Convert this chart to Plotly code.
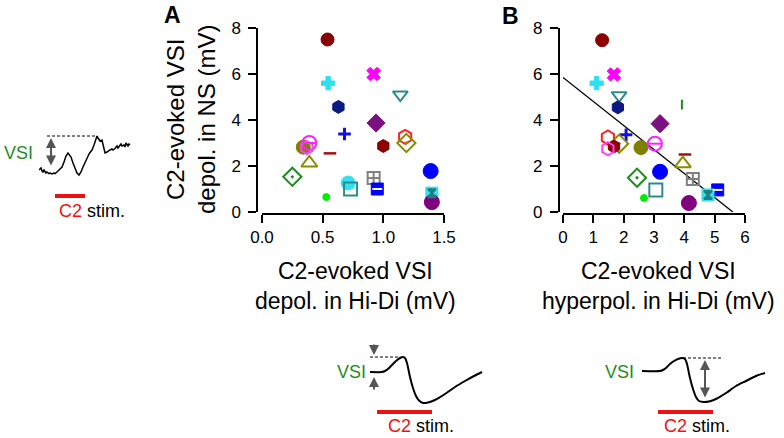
import plotly.graph_objects as go

W, H = 784, 438
FONT = "Liberation Sans, Arial, sans-serif"

# ---------------- scatter data (panel A: depol. in Hi-Di, panel B: hyperpol. in Hi-Di) -------------
cells = ["c1", "c2", "c3", "c4", "c5", "c6", "c7", "c8", "c9", "c10", "c11", "c12", "c13",
         "c14", "c15", "c16", "c17", "c18", "c19", "c20", "c21", "c22", "c23", "c24", "c25"]
colors = ["#8B0000", "#FF00FF", "#2DE0F0", "#2E8B8B", "#0A1A80", "#7B1080", "#1010E0", "#FF2020",
          "#8B8B00", "#8B0000", "#7F7F00", "#FF20FF", "#FF40FF", "#A01010", "#8B8B00", "#1E8C1E",
          "#0000FF", "#33E0F0", "#2E8B8B", "#808080", "#0000FF", "#00EE00", "#33E0F0", "#800080",
          "#1E8C1E"]
symbols = ["circle", "x", "cross", "triangle-down-open", "hexagon", "diamond", "cross-thin-open",
           "hexagon-open", "diamond-open-dot", "hexagon", "circle", "circle-open", "hexagon-open",
           "line-ew-open", "triangle-up-open", "diamond-open-dot", "circle", "circle", "square-open",
           "square-cross-open", "square", "circle", "square", "circle", "line-ns-open"]
sizes = [13, 12, 11, 13, 13, 14, 9, 14, 14, 13, 14, 14, 13, 9, 14, 14, 15, 14, 13, 12, 12, 7, 12, 15, 7]
line_w = [1, 1, 1, 2, 1, 1, 3, 2, 2, 1, 1, 2, 2, 2.5, 2, 2, 1, 1, 2, 2, 1, 1, 1, 1, 2]

depol_hidi = [0.54, 0.92, 0.545, 1.14, 0.63, 0.94, 0.68, 1.18, 1.19, 1.0, 0.34, 0.39, 0.37, 0.56,
              0.39, 0.25, 1.39, 0.71, 0.73, 0.92, 0.95, 0.53, 1.40, 1.40, None]
depol_ns_A = [7.5, 6.0, 5.6, 5.1, 4.57, 3.87, 3.39, 3.27, 3.0, 2.87, 2.82, 3.0, 2.8, 2.55,
              2.13, 1.53, 1.78, 1.26, 1.0, 1.48, 1.0, 0.65, 0.82, 0.43, None]
hyperpol_hidi = [1.29, 1.68, 1.11, 1.85, 1.81, 3.2, 2.08, 1.48, 1.85, 1.68, 2.57, 3.03, 1.48, 4.02,
                 3.95, 2.44, 3.2, None, 3.06, 4.28, 5.1, 2.67, 4.78, 4.15, 3.92]
depol_ns_B = [7.47, 5.98, 5.6, 5.07, 4.55, 3.84, 3.36, 3.24, 2.97, 2.85, 2.8, 2.97, 2.75, 2.5,
              2.1, 1.49, 1.75, None, 0.96, 1.44, 0.96, 0.61, 0.74, 0.39, 4.67]

# regression line in panel B
fit_x = [0.0, 5.6]
fit_y = [5.85, 0.0]

# marker details drawn on top of some symbols
detail_idx = [11, 20, 22]
detail_symbols = ["line-ew-open", "line-ew-open", "hourglass"]
detail_colors = ["#FF20FF", "#FFFFFF", "#1E7F7F"]
detail_sizes = [9, 7, 8]

x_ticks_A = [0.0, 0.5, 1.0, 1.5]
x_ticks_B = [0, 1, 2, 3, 4, 5, 6]
y_ticks = [0, 2, 4, 6, 8]

# ---------------- inset traces (local time / voltage units) ----------------
rec_t = [0, 1, 2, 3, 4, 5, 6, 7, 8, 10, 11, 13, 15, 16, 18, 20, 21, 23, 25, 27, 29, 30, 32, 34,
         36, 38, 40, 42, 44, 46, 48, 50, 51, 53, 55, 57, 58, 59, 60, 61, 63, 64, 66, 68, 69, 71,
         73, 74, 76, 78, 79, 80, 82, 83, 85, 86, 87, 89, 90, 91]
rec_v = [30, 31, 32, 29, 28, 30, 29, 27, 28, 26.5, 27, 26, 27, 26.5, 28, 30, 31, 33, 38, 44, 47,
         46, 43, 37, 32, 27, 25, 28, 33, 38, 43, 46, 47.5, 50, 55, 61, 64, 62, 60, 59, 60, 55, 47,
         48, 49, 50, 51, 50, 51.5, 54, 52, 53, 56, 54, 55, 53, 57, 54, 56, 55]
rec_peak_t = [8, 58]
rec_peak_v = [64, 64]
rec_stim_t = [16, 46]
rec_arrow = (12, 62, 33)  # t, v_top, v_bottom

schA_t = [10, 22, 25, 28, 32, 36, 40, 43, 45, 47, 50, 53, 56, 59, 63, 68, 75, 85, 95, 105, 114, 122]
schA_v = [48, 48, 49, 51, 55, 59, 62, 63, 62, 57, 43, 32, 24, 19.5, 17, 17.5, 20, 26, 33, 39, 44, 48]
schA_peak_t = [10, 40]
schA_peak_v = [63, 63]
schA_stim_t = [17, 72]

schB_t = [2, 20, 23, 26, 30, 34, 38, 42, 45, 47, 50, 53, 56, 59, 64, 69, 76, 86, 96, 106, 116, 125]
schB_v = [49, 49, 50, 52, 56, 59, 61, 62, 61, 56, 42, 31, 23, 19, 18, 18.5, 21, 27, 34, 39, 44, 47]
schB_peak_t = [43, 82]
schB_peak_v = [62, 62]
schB_stim_t = [18, 73]


def px(x):
    return x / W


def py(y):
    return 1 - y / H


fig = go.Figure()


def panel_points(xs, ys, xa, ya):
    fig.add_trace(go.Scatter(
        x=xs, y=ys, mode="markers", xaxis=xa, yaxis=ya, showlegend=False, hoverinfo="skip",
        marker=dict(symbol=symbols, size=sizes, color=colors, opacity=1,
                    line=dict(color=colors, width=line_w))))
    fig.add_trace(go.Scatter(
        x=[xs[i] for i in detail_idx], y=[ys[i] for i in detail_idx], mode="markers",
        xaxis=xa, yaxis=ya, showlegend=False, hoverinfo="skip",
        marker=dict(symbol=detail_symbols, size=detail_sizes, color=detail_colors, opacity=1,
                    line=dict(color=detail_colors, width=2))))


panel_points(depol_hidi, depol_ns_A, "x", "y")
fig.add_trace(go.Scatter(x=fit_x, y=fit_y, mode="lines", xaxis="x2", yaxis="y2",
                         line=dict(color="black", width=1.3), showlegend=False, hoverinfo="skip"))
panel_points(hyperpol_hidi, depol_ns_B, "x2", "y2")

# insets
RED = "#EE1111"


def inset(t, v, pk_t, pk_v, st_t, st_v, xa, ya):
    fig.add_trace(go.Scatter(x=t, y=v, mode="lines", xaxis=xa, yaxis=ya, showlegend=False,
                             hoverinfo="skip", line=dict(color="black", width=2, shape="spline",
                                                         smoothing=0.6)))
    fig.add_trace(go.Scatter(x=pk_t, y=pk_v, mode="lines", xaxis=xa, yaxis=ya, showlegend=False,
                             hoverinfo="skip", line=dict(color="black", width=1, dash="3px,2px")))
    fig.add_trace(go.Scatter(x=st_t, y=[st_v, st_v], mode="lines", xaxis=xa, yaxis=ya,
                             showlegend=False, hoverinfo="skip", line=dict(color=RED, width=4)))


fig.add_trace(go.Scatter(x=rec_t, y=rec_v, mode="lines", xaxis="x3", yaxis="y3", showlegend=False,
                         hoverinfo="skip", line=dict(color="black", width=1.5)))
fig.add_trace(go.Scatter(x=rec_peak_t, y=rec_peak_v, mode="lines", xaxis="x3", yaxis="y3",
                         showlegend=False, hoverinfo="skip",
                         line=dict(color="black", width=1, dash="3px,2px")))
fig.add_trace(go.Scatter(x=rec_stim_t, y=[4, 4], mode="lines", xaxis="x3", yaxis="y3",
                         showlegend=False, hoverinfo="skip", line=dict(color=RED, width=4)))
inset(schA_t, schA_v, schA_peak_t, schA_peak_v, schA_stim_t, 8, "x4", "y4")
inset(schB_t, schB_v, schB_peak_t, schB_peak_v, schB_stim_t, 8, "x5", "y5")

# ---------------- axes ----------------
ax_line = dict(showline=True, linecolor="black", linewidth=1.5, ticks="outside", ticklen=8,
               tickwidth=1.5, tickcolor="black", showgrid=False, zeroline=False,
               tickfont=dict(family=FONT, size=17, color="black"), fixedrange=True)
y_dom = [py(212), py(28)]
x_pos = py(214)
fig.update_layout(
    xaxis=dict(domain=[px(262), px(444)], range=[0, 1.5], tickvals=x_ticks_A, tickformat=".1f",
               anchor="free", position=x_pos, **ax_line),
    yaxis=dict(domain=y_dom, range=[0, 8], tickvals=y_ticks, anchor="free", position=px(257),
               ticklabelstandoff=4, **ax_line),
    xaxis2=dict(domain=[px(563), px(745)], range=[0, 6], tickvals=x_ticks_B, anchor="free",
                position=x_pos, **ax_line),
    yaxis2=dict(domain=y_dom, range=[0, 8], tickvals=y_ticks, anchor="free", position=px(558.5),
                ticklabelstandoff=4, **ax_line),
)
hidden = dict(visible=False, fixedrange=True)
fig.update_layout(
    xaxis3=dict(domain=[px(39), px(132)], range=[0, 93], anchor="y3", **hidden),
    yaxis3=dict(domain=[py(200), py(130)], range=[0, 70], anchor="x3", **hidden),
    xaxis4=dict(domain=[px(360), px(485)], range=[0, 125], anchor="y4", **hidden),
    yaxis4=dict(domain=[py(420), py(335)], range=[0, 85], anchor="x4", **hidden),
    xaxis5=dict(domain=[px(640), px(770)], range=[0, 130], anchor="y5", **hidden),
    yaxis5=dict(domain=[py(420), py(335)], range=[0, 85], anchor="x5", **hidden),
)

ann = []


def text(x, y, s, size=21, color="black", angle=0):
    ann.append(dict(x=px(x), y=py(y), xref="paper", yref="paper", text=s, showarrow=False,
                    textangle=angle, xanchor="center", yanchor="middle", borderpad=0,
                    font=dict(family=FONT, size=size, color=color)))


text(172, 15, "<b>A</b>", size=23)
text(510, 16, "<b>B</b>", size=23)
text(191, 120, "C2-evoked VSI<br>depol. in NS (mV)", size=24, angle=-90)
text(355, 286, "C2-evoked VSI<br>depol. in Hi-Di (mV)", size=23)
text(658, 286, "C2-evoked VSI<br>hyperpol. in Hi-Di (mV)", size=23)

GREEN = "#1E8C1E"
STIM = "<span style='color:%s'>C2</span> stim." % RED
text(18, 153, "VSI", size=18, color=GREEN)
text(92, 211, STIM, size=18)
text(351, 372, "VSI", size=18, color=GREEN)
text(421, 426, STIM, size=18)
text(619, 372, "VSI", size=18, color=GREEN)
text(697, 426, STIM, size=18)

GRAY = "#555555"


def arrow(xa, ya, t, v_from, v_to, both=False):
    ann.append(dict(x=t, y=v_to, ax=t, ay=v_from, xref=xa, yref=ya, axref=xa, ayref=ya,
                    showarrow=True, arrowhead=2, arrowsize=1, arrowwidth=2, arrowcolor=GRAY,
                    arrowside="end+start" if both else "end", text=""))


arrow("x3", "y3", rec_arrow[0], rec_arrow[2], rec_arrow[1], both=True)
arrow("x4", "y4", 14, 77, 65)
arrow("x4", "y4", 14, 29, 43)
arrow("x5", "y5", 65, 21, 60, both=True)

fig.update_layout(annotations=ann, width=W, height=H, margin=dict(l=0, r=0, t=0, b=0),
                  paper_bgcolor="white", plot_bgcolor="white", template="none",
                  showlegend=False)
fig.write_html("out.html", config={"displayModeBar": False},
               post_script="document.body.style.margin='0px';")
